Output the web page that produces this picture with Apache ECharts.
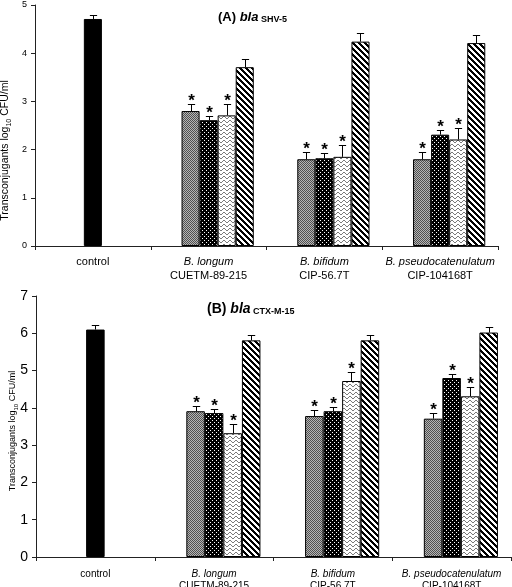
<!DOCTYPE html>
<html><head><meta charset="utf-8">
<script src="https://cdn.jsdelivr.net/npm/echarts@6/dist/echarts.min.js"></script>
<style>html,body{margin:0;padding:0;background:#fff}#c{width:512px;height:587px}</style>
</head><body><div id="c"></div>
<script>
// ---------- data ----------
const species = ['control', 'B. longum', 'B. bifidum', 'B. pseudocatenulatum'];
const strains = ['', 'CUETM-89-215', 'CIP-56.7T', 'CIP-104168T'];

// Panel A: bla SHV-5
const shvControl = [4.71];
const shvControlErr = [0.09];
const shvT1 = [2.80, 1.80, 1.80];
const shvT1Err = [0.15, 0.15, 0.15];
const shvT2 = [2.61, 1.82, 2.31];
const shvT2Err = [0.09, 0.10, 0.09];
const shvT3 = [2.71, 1.85, 2.21];
const shvT3Err = [0.24, 0.25, 0.24];
const shvT4 = [3.71, 4.24, 4.21];
const shvT4Err = [0.18, 0.18, 0.17];

// Panel B: bla CTX-M-15
const ctxControl = [6.10];
const ctxControlErr = [0.11];
const ctxT1 = [3.91, 3.78, 3.71];
const ctxT1Err = [0.13, 0.15, 0.15];
const ctxT2 = [3.86, 3.91, 4.80];
const ctxT2Err = [0.10, 0.10, 0.10];
const ctxT3 = [3.32, 4.72, 4.31];
const ctxT3Err = [0.24, 0.24, 0.24];
const ctxT4 = [5.81, 5.81, 6.02];
const ctxT4Err = [0.15, 0.15, 0.14];

// significance (asterisk) per treatment series
const significant = [true, true, true, false];

const shvTicks = [0, 1, 2, 3, 4, 5];
const ctxTicks = [0, 1, 2, 3, 4, 5, 6, 7];

// ---------- patterns ----------
function tile(w, h, draw) {
  const c = document.createElement('canvas');
  c.width = w; c.height = h;
  draw(c.getContext('2d'), w, h);
  return c;
}
const patGray = tile(2, 2, (g) => {
  g.fillStyle = '#b5b5b5'; g.fillRect(0, 0, 2, 2);
  g.fillStyle = '#505050'; g.fillRect(0, 0, 1, 1); g.fillRect(1, 1, 1, 1);
});
const patDots = tile(4, 4, (g) => {
  g.fillStyle = '#000'; g.fillRect(0, 0, 4, 4);
  g.fillStyle = '#fff'; g.fillRect(0, 0, 1, 1); g.fillRect(2, 2, 1, 1);
});
const patWave = tile(6, 4, (g) => {
  g.fillStyle = '#fff'; g.fillRect(0, 0, 6, 4);
  g.fillStyle = '#7a7a7a';
  const ys = [1, 0, 0, 1, 2, 2];
  ys.forEach((y, x) => g.fillRect(x, y, 1, 1));
});
const patDiag = tile(6, 6, (g) => {
  g.fillStyle = '#000'; g.fillRect(0, 0, 6, 6);
  g.fillStyle = '#fff';
  for (let x = 0; x < 6; x++) for (let y = 0; y < 6; y++) {
    if ((((x - y) % 6) + 6) % 6 < 3) g.fillRect(x, y, 1, 1);
  }
});
const fills = [
  { image: patGray, repeat: 'repeat' },
  { image: patDots, repeat: 'repeat' },
  { image: patWave, repeat: 'repeat' },
  { image: patDiag, repeat: 'repeat' }
];

// ---------- helpers ----------
const FONT = 'Liberation Sans, Arial, sans-serif';
const BAR_FRAC = 0.156;
const BAR_W = (BAR_FRAC * 100).toFixed(1) + '%';

function pad(arr) { return ['-'].concat(arr); }

function errData(ctrl, ctrlErr, ts, tErrs) {
  const out = [[0, ctrl[0], ctrlErr[0], 2, 0]];
  ts.forEach((vals, s) => {
    vals.forEach((v, i) => out.push([i + 1, v, tErrs[s][i], s + 1, significant[s] ? 1 : 0]));
  });
  return out;
}

function renderErr(params, api) {
  const cat = api.value(0), val = api.value(1), err = api.value(2), slot = api.value(3), sig = api.value(4);
  const band = api.size([1, 0])[0];
  const bw = band * BAR_FRAC;
  const p = api.coord([cat, val]);
  const t = api.coord([cat, val + err]);
  const x = Math.round(p[0] + (slot - 2) * bw) + 0.5;
  const cap = bw * 0.2;
  const ty = Math.round(t[1]) + 0.5;
  const children = [
    { type: 'line', shape: { x1: x, y1: p[1], x2: x, y2: ty }, style: { stroke: '#000', lineWidth: 1 } },
    { type: 'line', shape: { x1: x - cap, y1: ty, x2: x + cap, y2: ty }, style: { stroke: '#000', lineWidth: 1 } }
  ];
  if (sig) {
    children.push({
      type: 'text',
      style: { text: '*', x: x, y: ty - 12, align: 'center', verticalAlign: 'top',
               fontSize: 17, fontWeight: 'bold', fontFamily: FONT, fill: '#000' }
    });
  }
  return { type: 'group', children };
}

function xAxisDef(gi, fs, lh, margin, show) {
  return {
    type: 'category', gridIndex: gi, data: species, show: show,
    axisLine: { lineStyle: { color: '#222', width: 1 } },
    axisTick: { show: true, length: 4, lineStyle: { color: '#222' } },
    axisLabel: {
      interval: 0, margin: margin, color: '#000', hideOverlap: false,
      formatter: (v, i) => i === 0 ? '{n|' + v + '}' : '{it|' + v + '}\n{n|' + strains[i] + '}',
      rich: {
        n: { fontSize: fs, fontFamily: FONT, color: '#000', lineHeight: lh },
        it: { fontSize: fs, fontFamily: FONT, fontStyle: 'italic', color: '#000', lineHeight: lh }
      }
    }
  };
}

function yAxisDef(gi, max, ticksFs, nameFs, nameGap, margin, shift) {
  return {
    type: 'value', gridIndex: gi, min: 0, max: max, interval: 1,
    splitLine: { show: false },
    axisLine: { show: true, lineStyle: { color: '#222', width: 1 } },
    axisTick: { show: true, length: 4, lineStyle: { color: '#222' } },
    axisLabel: { fontSize: ticksFs, fontFamily: FONT, color: '#000', margin: margin },
    name: '{a|Transconjugants log}{s|10}{a| CFU/ml}',
    nameLocation: 'middle', nameGap: nameGap, nameRotate: 90, nameMoveOverlap: false,
    nameTextStyle: {
      padding: [0, shift, 0, 0],
      rich: {
        a: { fontSize: nameFs, fontFamily: FONT, color: '#000', verticalAlign: 'bottom', padding: [0, 0, 2, 0] },
        s: { fontSize: Math.round(nameFs * 0.65), fontFamily: FONT, color: '#000', verticalAlign: 'bottom' }
      }
    }
  };
}

function panelSeries(xMain, xCtrl, yi, ctrl, ctrlErr, ts, tErrs) {
  const s = [];
  // control bar on its own (hidden) category axis, centred in its band
  s.push({ type: 'bar', xAxisIndex: xCtrl, yAxisIndex: yi, barWidth: BAR_W,
           data: [ctrl[0], '-', '-', '-'],
           itemStyle: { color: '#000', borderColor: '#000', borderWidth: 1 }, silent: true });
  // empty slot (original chart reserves the control position in each cluster)
  s.push({ type: 'bar', xAxisIndex: xMain, yAxisIndex: yi, barWidth: BAR_W, barGap: '0%',
           data: ['-', '-', '-', '-'], silent: true });
  ts.forEach((vals, k) => {
    s.push({ type: 'bar', xAxisIndex: xMain, yAxisIndex: yi, barWidth: BAR_W, barGap: '0%',
             data: pad(vals),
             itemStyle: { color: fills[k], borderColor: '#000', borderWidth: 1 }, silent: true });
  });
  s.push({ type: 'custom', xAxisIndex: xMain, yAxisIndex: yi, renderItem: renderErr,
           data: errData(ctrl, ctrlErr, ts, tErrs), z: 5, silent: true });
  return s;
}

const chart = echarts.init(document.getElementById('c'), null, { renderer: 'canvas' });
chart.setOption({
  animation: false,
  backgroundColor: '#fff',
  title: [
    { text: '{b|(A) }{i|bla}{s| SHV-5}', left: 213, top: 6,
      textStyle: { rich: {
        b: { fontSize: 13, fontWeight: 'bold', fontFamily: FONT, color: '#000', verticalAlign: 'bottom' },
        i: { fontSize: 13, fontWeight: 'bold', fontStyle: 'italic', fontFamily: FONT, color: '#000', verticalAlign: 'bottom' },
        s: { fontSize: 9, fontWeight: 'bold', fontFamily: FONT, color: '#000', verticalAlign: 'bottom' } } } },
    { text: '{b|(B) }{i|bla}{s| CTX-M-15}', left: 202, top: 297,
      textStyle: { rich: {
        b: { fontSize: 14, fontWeight: 'bold', fontFamily: FONT, color: '#000', verticalAlign: 'bottom' },
        i: { fontSize: 14, fontWeight: 'bold', fontStyle: 'italic', fontFamily: FONT, color: '#000', verticalAlign: 'bottom' },
        s: { fontSize: 9, fontWeight: 'bold', fontFamily: FONT, color: '#000', verticalAlign: 'bottom' } } } }
  ],
  grid: [
    { left: 35, right: 14, top: 5, height: 241, containLabel: false, outerBoundsMode: 'none' },
    { left: 36, right: 1, top: 296, height: 261, containLabel: false, outerBoundsMode: 'none' }
  ],
  xAxis: [
    xAxisDef(0, 11, 14, 9, true),
    xAxisDef(0, 11, 14, 9, false),
    xAxisDef(1, 10, 12, 11, true),
    xAxisDef(1, 10, 12, 11, false)
  ],
  yAxis: [
    yAxisDef(0, shvTicks[shvTicks.length - 1], 9, 10.5, 22, 8, 50),
    yAxisDef(1, ctxTicks[ctxTicks.length - 1], 14, 9, 17, 8, 9)
  ],
  series: [].concat(
    panelSeries(0, 1, 0, shvControl, shvControlErr, [shvT1, shvT2, shvT3, shvT4], [shvT1Err, shvT2Err, shvT3Err, shvT4Err]),
    panelSeries(2, 3, 1, ctxControl, ctxControlErr, [ctxT1, ctxT2, ctxT3, ctxT4], [ctxT1Err, ctxT2Err, ctxT3Err, ctxT4Err])
  )
});
</script></body></html>
